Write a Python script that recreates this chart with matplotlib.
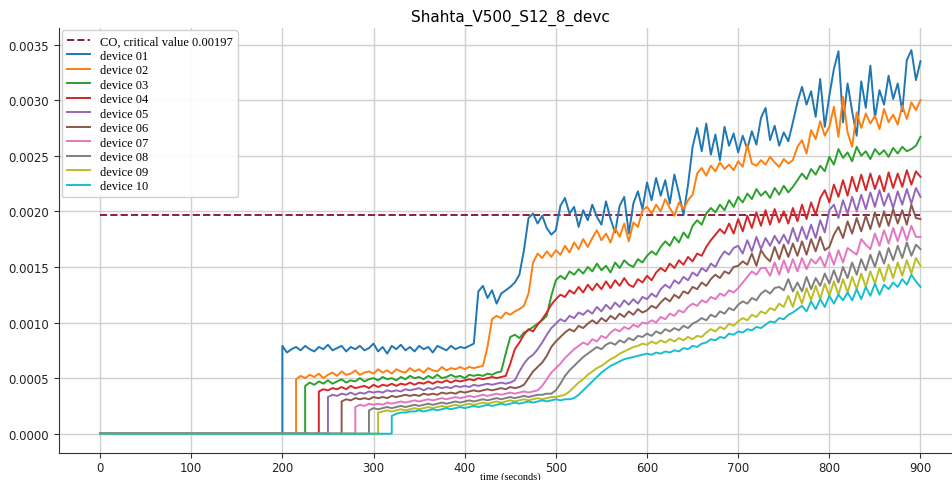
import numpy as np
import matplotlib
matplotlib.use("Agg")
from matplotlib import pyplot as plt

# CO readings, in units of 1e-4, sampled every 5 s; each list starts when the device first reads
time = np.arange(0, 905, 5)
critical = 0.00197
title = "Shahta_V500_S12_8_devc"

device_01 = [7.9, 7.3, 7.6, 7.8, 7.5, 7.9, 7.6, 7.4, 7.8, 7.6,
             8.0, 7.5, 7.7, 7.9, 7.4, 7.8, 7.6, 7.9, 7.5, 7.7,
             8.1, 7.4, 7.8, 7.2, 7.9, 7.6, 8.0, 7.5, 7.8, 7.4,
             7.9, 7.6, 7.8, 7.3, 7.9, 7.7, 7.5, 7.9, 7.6, 7.8,
             7.7, 7.9, 8.1, 12.8, 13.3, 12.2, 12.9, 11.7, 12.6, 12.9,
             13.2, 13.6, 14.3, 16.5, 19.4, 19.8, 18.9, 19.6, 18.5, 17.9,
             18.3, 20.5, 21.2, 19.8, 20.4, 18.6, 20.1, 19.2, 20.6, 19.5,
             18.8, 20.9, 19.3, 18.1, 20.5, 21.3, 18.0, 20.7, 21.8, 20.2,
             22.6, 21.0, 23.0, 21.4, 22.8, 20.7, 23.3, 21.6, 19.7, 22.4,
             25.8, 27.5, 25.4, 27.9, 25.1, 26.9, 24.6, 27.6, 25.9, 27.0,
             25.3, 26.8, 25.6, 27.2, 26.0, 28.4, 29.3, 26.4, 27.7, 25.9,
             27.1, 26.3, 28.0, 29.8, 31.2, 29.6, 30.8, 28.5, 31.9, 27.6,
             30.4, 32.8, 34.4, 28.0, 31.5, 29.0, 26.8, 31.7, 29.3, 33.1,
             28.4, 30.9, 29.6, 32.2, 30.1, 31.5, 29.0, 33.6, 34.5, 31.8,
             33.5]
device_02 = [4.9, 5.2, 5.0, 5.3, 5.1, 5.4, 5.0, 5.3, 5.5, 5.2,
             5.6, 5.3, 5.4, 5.7, 5.3, 5.5, 5.6, 5.4, 5.8, 5.5,
             5.7, 5.4, 5.8, 5.6, 5.5, 5.9, 5.6, 5.8, 5.5, 5.9,
             5.7, 5.6, 6.0, 5.7, 5.9, 5.8, 6.0, 5.8, 6.0, 5.9,
             6.0, 6.1, 7.8, 10.3, 10.6, 10.4, 10.9, 10.7, 11.0, 11.2,
             11.5, 12.6, 15.4, 16.2, 15.8, 16.4, 15.9, 16.5, 16.1, 16.9,
             16.3, 17.2, 16.6, 17.5, 16.8, 17.6, 18.3, 17.4, 18.0, 17.2,
             18.5, 17.7, 18.9, 17.3, 19.0, 18.6, 20.1, 20.4, 19.8, 20.6,
             20.0, 21.1, 20.3, 19.6, 20.8, 20.2, 21.0, 21.5, 23.4, 23.9,
             23.2, 24.1, 23.6, 24.4, 23.8, 24.2, 23.7, 24.5, 24.0, 26.0,
             24.3, 24.1, 24.6, 24.2, 24.9, 24.4, 24.0, 24.7, 24.3, 24.6,
             25.8, 26.4, 25.2, 27.3, 26.5, 28.1, 26.8, 27.6, 29.4, 26.7,
             30.3, 27.1, 25.8, 28.9, 27.5, 28.8, 27.9, 28.6, 27.4, 29.2,
             28.0, 28.7, 27.8, 29.5, 28.3, 29.8, 29.1, 30.0]
device_03 = [4.3, 4.6, 4.4, 4.7, 4.5, 4.8, 4.5, 4.7, 4.9, 4.6,
             4.8, 4.7, 5.0, 4.7, 4.9, 5.0, 4.8, 5.1, 4.9, 5.0,
             4.8, 5.1, 4.9, 5.2, 5.0, 5.1, 4.9, 5.2, 5.0, 5.3,
             5.0, 5.1, 5.3, 5.1, 5.2, 5.0, 5.3, 5.2, 5.3, 5.2,
             5.4, 5.3, 5.5, 5.6, 7.2, 8.7, 8.9, 8.6, 9.1, 9.3,
             9.6, 9.9, 10.2, 10.6, 12.4, 13.8, 14.2, 13.9, 14.6, 14.3,
             14.8, 14.4, 15.0, 14.6, 15.3, 14.7, 15.1, 14.5, 15.4, 14.9,
             15.6, 15.2, 15.0, 15.7, 15.4, 16.0, 16.4, 16.1, 16.8, 17.3,
             16.9, 17.7, 17.2, 18.1, 17.6, 18.7, 19.2, 18.8, 19.8, 20.3,
             19.9, 20.6, 20.1, 21.0, 20.4, 21.3, 20.8, 21.6, 21.1, 22.0,
             21.4, 21.8, 21.2, 22.1, 21.5, 22.3, 21.7, 22.2, 22.8, 23.4,
             22.9, 23.8, 23.3, 24.1, 23.6, 24.9, 24.2, 25.6, 24.8, 25.3,
             24.5, 25.8, 25.0, 25.4, 24.7, 25.6, 25.1, 25.5, 24.9, 25.7,
             25.2, 25.8, 25.4, 25.6, 25.9, 26.7]
device_04 = [3.8, 4.0, 3.9, 4.1, 4.0, 4.2, 4.0, 4.3, 4.1, 4.2,
             4.3, 4.1, 4.4, 4.2, 4.4, 4.3, 4.5, 4.3, 4.5, 4.4,
             4.6, 4.4, 4.6, 4.5, 4.7, 4.5, 4.7, 4.6, 4.8, 4.6,
             4.8, 4.7, 4.8, 4.9, 4.8, 5.0, 4.9, 5.0, 5.1, 5.0,
             5.1, 5.2, 6.3, 7.6, 8.2, 8.9, 9.4, 9.2, 9.8, 10.3,
             10.9, 11.6, 12.1, 12.5, 12.3, 12.9, 12.6, 13.2, 12.7, 13.4,
             12.9, 13.5, 13.0, 13.7, 13.1, 13.8, 13.3, 14.0, 13.4, 13.2,
             13.9, 13.6, 14.2, 13.8, 14.5, 14.9, 14.6, 15.3, 14.9, 15.6,
             15.2, 15.9, 15.5, 16.2, 16.0, 16.8, 17.4, 17.9, 18.4, 18.0,
             18.9, 18.0, 19.3, 18.2, 19.6, 18.5, 19.9, 18.7, 20.1, 18.8,
             20.2, 19.0, 20.0, 18.9, 20.3, 19.1, 20.6, 19.3, 20.8, 19.7,
             21.2, 21.9, 20.8, 22.4, 21.3, 22.8, 21.4, 23.1, 21.8, 23.3,
             21.9, 23.4, 22.0, 23.2, 21.8, 23.5, 22.1, 23.4, 22.2, 23.7,
             22.4, 23.6, 23.1]
device_05 = [3.3, 3.5, 3.4, 3.6, 3.5, 3.7, 3.5, 3.7, 3.6, 3.8,
             3.7, 3.8, 3.7, 3.9, 3.8, 3.9, 3.8, 4.0, 3.9, 4.0,
             4.1, 3.9, 4.1, 4.0, 4.2, 4.1, 4.2, 4.1, 4.3, 4.2,
             4.3, 4.2, 4.4, 4.3, 4.4, 4.5, 4.4, 4.5, 4.6, 4.5,
             4.6, 4.8, 5.6, 6.3, 6.8, 7.1, 7.6, 8.2, 8.9, 9.5,
             9.9, 10.3, 10.1, 10.6, 10.4, 10.9, 10.7, 11.1, 10.8, 11.4,
             11.0, 11.6, 11.2, 11.8, 11.4, 12.0, 11.6, 12.1, 11.7, 12.3,
             12.1, 12.6, 12.3, 13.0, 13.4, 13.1, 13.8, 13.5, 14.1, 13.8,
             14.5, 14.2, 14.9, 14.6, 15.3, 15.0, 15.8, 16.4, 16.1, 16.7,
             16.9, 16.2, 17.4, 16.4, 17.7, 16.6, 17.6, 16.9, 17.8, 17.1,
             17.9, 17.1, 18.5, 17.3, 18.6, 17.5, 18.8, 17.6, 19.2, 18.1,
             20.1, 20.6, 19.4, 21.0, 19.8, 21.3, 20.0, 21.5, 20.2, 21.7,
             20.4, 21.9, 20.5, 21.6, 20.3, 21.8, 20.6, 22.0, 20.7, 22.1,
             21.3]
device_06 = [2.9, 3.1, 3.0, 3.2, 3.1, 3.2, 3.1, 3.3, 3.2, 3.3,
             3.2, 3.4, 3.3, 3.4, 3.5, 3.4, 3.5, 3.4, 3.6, 3.5,
             3.6, 3.5, 3.7, 3.6, 3.7, 3.6, 3.8, 3.7, 3.8, 3.9,
             3.8, 3.9, 4.0, 3.9, 4.0, 4.1, 4.0, 4.2, 4.1, 4.2,
             4.4, 5.0, 5.6, 6.0, 6.4, 7.0, 7.8, 8.3, 8.7, 9.1,
             9.4, 9.2, 9.7, 9.5, 9.9, 10.2, 9.9, 10.4, 10.1, 10.6,
             10.3, 10.8, 10.5, 11.0, 10.7, 11.2, 10.9, 11.1, 11.5, 11.3,
             11.8, 12.2, 11.9, 12.5, 12.2, 12.8, 12.6, 13.2, 13.0, 13.6,
             13.3, 13.9, 14.3, 14.0, 14.6, 14.4, 15.0, 15.1, 15.5, 15.2,
             16.2, 15.1, 16.5, 15.9, 15.5, 16.8, 15.7, 17.0, 15.9, 17.1,
             16.0, 17.3, 16.1, 17.5, 16.4, 17.7, 16.5, 16.8, 17.9, 18.6,
             17.6, 19.1, 18.0, 19.4, 18.2, 19.6, 18.4, 19.9, 18.6, 20.0,
             18.7, 20.2, 18.9, 20.1, 18.8, 20.6, 19.4, 19.3]
device_07 = [2.4, 2.6, 2.5, 2.7, 2.6, 2.7, 2.6, 2.8, 2.7, 2.8,
             2.9, 2.8, 2.9, 3.0, 2.9, 3.0, 3.1, 3.0, 3.1, 3.2,
             3.1, 3.2, 3.3, 3.2, 3.3, 3.4, 3.3, 3.4, 3.5, 3.4,
             3.5, 3.6, 3.5, 3.6, 3.7, 3.6, 3.7, 3.8, 3.7, 3.8,
             3.9, 4.3, 4.9, 5.5, 5.9, 6.3, 6.8, 7.2, 7.6, 7.9,
             8.2, 8.0, 8.5, 8.3, 8.8, 8.6, 9.1, 9.4, 9.2, 9.6,
             9.4, 9.8, 9.6, 10.0, 9.9, 10.2, 10.0, 10.5, 10.3, 10.8,
             10.6, 11.1, 10.9, 11.4, 11.7, 11.5, 12.0, 11.8, 12.3, 12.1,
             12.6, 12.4, 12.9, 12.7, 13.1, 13.6, 14.1, 14.6, 14.3, 14.9,
             14.9, 14.2, 15.4, 14.3, 15.6, 14.5, 15.7, 14.6, 15.8, 14.8,
             15.7, 15.3, 15.9, 15.0, 16.3, 15.2, 16.5, 15.4, 16.7, 16.4,
             16.1, 17.5, 17.0, 16.6, 18.0, 16.9, 18.3, 17.1, 18.5, 17.3,
             18.6, 17.4, 18.7, 17.7, 17.7]
device_08 = [2.1, 2.3, 2.2, 2.3, 2.4, 2.3, 2.4, 2.5, 2.4, 2.5,
             2.6, 2.5, 2.6, 2.7, 2.6, 2.7, 2.8, 2.7, 2.8, 2.9,
             2.8, 2.9, 3.0, 2.9, 3.0, 3.1, 3.0, 3.1, 3.2, 3.1,
             3.2, 3.3, 3.2, 3.3, 3.4, 3.3, 3.4, 3.5, 3.5, 3.6,
             3.6, 3.9, 4.5, 5.2, 5.7, 6.1, 6.5, 6.9, 7.2, 7.5,
             7.8, 7.6, 8.0, 8.2, 8.0, 8.4, 8.2, 8.6, 8.4, 8.8,
             8.7, 9.0, 8.8, 9.2, 9.0, 9.4, 9.2, 9.5, 9.3, 9.7,
             9.5, 9.9, 10.1, 10.4, 10.2, 10.7, 10.5, 11.0, 10.8, 11.3,
             11.1, 11.6, 11.9, 11.7, 12.2, 12.0, 12.6, 12.9, 12.6, 13.1,
             13.2, 12.9, 13.9, 12.8, 13.6, 12.8, 14.1, 13.0, 14.0, 13.3,
             14.4, 13.5, 14.7, 13.6, 15.0, 14.0, 15.4, 14.3, 15.7, 14.7,
             16.1, 15.0, 16.4, 15.3, 16.7, 15.6, 16.9, 15.8, 17.2, 16.0,
             17.0, 16.6]
device_09 = [1.9, 2.0, 2.1, 2.0, 2.1, 2.2, 2.1, 2.2, 2.3, 2.2,
             2.3, 2.4, 2.3, 2.4, 2.5, 2.4, 2.5, 2.6, 2.5, 2.6,
             2.7, 2.6, 2.7, 2.8, 2.7, 2.8, 2.9, 2.8, 2.9, 3.0,
             2.9, 3.0, 3.1, 3.0, 3.1, 3.2, 3.1, 3.2, 3.3, 3.3,
             3.4, 3.5, 3.8, 4.2, 4.6, 4.9, 5.3, 5.6, 5.9, 6.1,
             6.4, 6.7, 6.9, 7.2, 7.4, 7.6, 7.8, 7.9, 8.1, 8.0,
             8.3, 8.1, 8.4, 8.2, 8.5, 8.3, 8.6, 8.4, 8.7, 8.5,
             8.8, 8.7, 9.1, 9.4, 9.2, 9.6, 9.4, 9.9, 9.7, 10.1,
             10.4, 10.2, 10.7, 10.5, 11.0, 10.8, 11.3, 11.1, 11.7, 11.4,
             12.4, 11.4, 12.8, 11.7, 13.1, 12.0, 13.3, 12.1, 13.5, 12.4,
             13.7, 12.5, 13.9, 12.7, 14.1, 13.0, 14.4, 13.2, 14.6, 13.5,
             14.9, 13.7, 15.2, 14.0, 15.4, 14.2, 15.6, 14.4, 15.8, 15.1]
device_10 = [1.6, 1.8, 1.9, 1.9, 2.0, 2.0, 2.1, 2.0, 2.1, 2.2,
             2.1, 2.2, 2.3, 2.2, 2.3, 2.4, 2.3, 2.4, 2.5, 2.4,
             2.5, 2.6, 2.5, 2.6, 2.7, 2.6, 2.7, 2.8, 2.7, 2.8,
             2.9, 2.8, 2.9, 3.0, 2.9, 3.0, 3.1, 3.0, 3.1, 3.1,
             3.2, 3.5, 3.9, 4.3, 4.7, 5.1, 5.5, 5.8, 6.1, 6.3,
             6.5, 6.7, 6.8, 6.9, 7.0, 7.1, 7.2, 7.1, 7.3, 7.2,
             7.4, 7.3, 7.5, 7.4, 7.7, 7.6, 7.9, 7.8, 8.1, 8.2,
             8.5, 8.4, 8.7, 8.6, 9.0, 8.9, 9.2, 9.1, 9.4, 9.3,
             9.6, 9.5, 9.8, 10.1, 10.0, 10.4, 10.3, 10.7, 10.9, 11.2,
             11.5, 11.0, 11.9, 11.2, 12.1, 11.4, 12.4, 11.7, 12.5, 12.0,
             12.7, 12.0, 13.0, 12.1, 13.2, 12.4, 13.5, 12.5, 13.4, 13.0,
             13.6, 13.2, 13.9, 13.4, 14.3, 13.7, 13.2]

devices = [device_01, device_02, device_03, device_04, device_05,
           device_06, device_07, device_08, device_09, device_10]
labels = ["device %02d" % (i + 1) for i in range(len(devices))]

fig = plt.figure(figsize=(9.52, 4.81), dpi=100)
ax = fig.add_axes([0.062, 0.056, 0.948, 0.884])

ax.plot([time[0], time[-1]], [critical, critical], "--", color="#8b1e3f",
        lw=1.4, label="CO, critical value %.5f" % critical)
for vals, lab in zip(devices, labels):
    t = time[-len(vals):]
    # flat zero until the device starts reading, then a vertical rise
    x = np.concatenate([[time[0], t[0]], t])
    y = np.concatenate([[0, 0], vals]) * 1e-4
    ax.plot(x, y, lw=1.4, label=lab)

ax.set_xlim(-45, 945)
ax.set_ylim(-0.000174, 0.00365)
ax.set_xticks(np.arange(0, 1000, 100))
ax.set_yticks(np.arange(0, 0.0036, 0.0005))
ax.yaxis.set_major_formatter(matplotlib.ticker.FormatStrFormatter("%.4f"))
ax.tick_params(labelsize=8.5, colors="#333333", labelcolor="#222222")
ax.tick_params(axis="x", pad=2)
ax.grid(True, color="#d0d0d0", lw=1)
ax.set_axisbelow(True)
for s in ["top", "right"]:
    ax.spines[s].set_visible(False)
for s in ["left", "bottom"]:
    ax.spines[s].set_color("#333333")

ax.set_title(title, fontsize=11, pad=5)
ax.set_xlabel("time (seconds)", family="Liberation Serif", fontsize=7.5)
ax.xaxis.set_label_coords(0.5, -0.043)
ax.legend(loc="upper left", prop={"family": "Liberation Serif", "size": 9},
          labelspacing=0.2, borderaxespad=0.2, handlelength=1.85,
          framealpha=0.9, edgecolor="#cccccc", fancybox=True)

fig.savefig("out.png", dpi=100)
